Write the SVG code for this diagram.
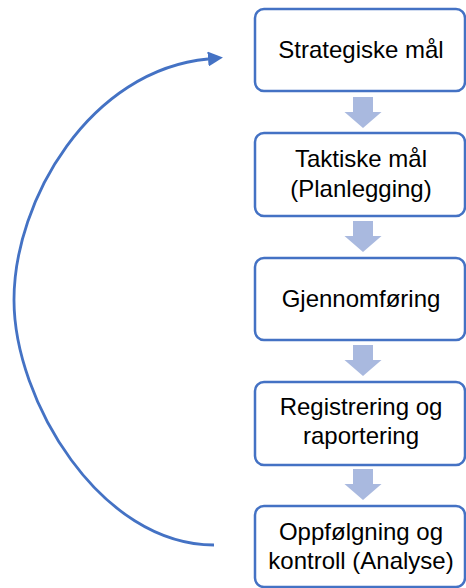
<svg xmlns="http://www.w3.org/2000/svg" width="466" height="588" viewBox="0 0 466 588">
<defs>
<style>
.box{fill:#fff;stroke:#4472C4;stroke-width:2.5}
.lbl{font-family:"Liberation Sans",Arial,sans-serif;font-size:24px;fill:#000;text-anchor:middle}
.blk{fill:#A9B9DF}
.loop{fill:none;stroke:#4472C4;stroke-width:2.8}
</style>
<marker id="ah" viewBox="0 0 15 15" refX="0" refY="7.5" markerWidth="15" markerHeight="15" markerUnits="userSpaceOnUse" orient="auto">
<path d="M0,0 L15,7.5 L0,15 z" fill="#4472C4"/>
</marker>
<path id="down" d="M-10,0 H10 V15 H18.5 L0,31 L-18.5,15 H-10 z"/>
</defs>
<rect width="466" height="588" fill="#fff"/>
<g id="connectors">
<use href="#down" class="blk" x="363" y="97"/>
<use href="#down" class="blk" x="363" y="221"/>
<use href="#down" class="blk" x="363" y="345"/>
<use href="#down" class="blk" x="363" y="469"/>
<path class="loop" d="M214,545 C100,545 14,400 14,300 C14,200 90,70 208,59" marker-end="url(#ah)"/>
</g>
<g id="n1">
<rect class="box" x="255" y="9" width="210" height="82" rx="9"/>
<text class="lbl" x="361" y="58">Strategiske mål</text>
</g>
<g id="n2">
<rect class="box" x="255" y="133" width="210" height="83" rx="9"/>
<text class="lbl" x="361" y="167">Taktiske mål</text>
<text class="lbl" x="361" y="197">(Planlegging)</text>
</g>
<g id="n3">
<rect class="box" x="255" y="258" width="210" height="82" rx="9"/>
<text class="lbl" x="361" y="307">Gjennomføring</text>
</g>
<g id="n4">
<rect class="box" x="255" y="382" width="210" height="83" rx="9"/>
<text class="lbl" x="361" y="415">Registrering og</text>
<text class="lbl" x="361" y="444">raportering</text>
</g>
<g id="n5">
<rect class="box" x="255" y="506" width="210" height="81" rx="9"/>
<text class="lbl" x="361" y="540">Oppfølgning og</text>
<text class="lbl" x="361" y="569">kontroll (Analyse)</text>
</g>
</svg>
